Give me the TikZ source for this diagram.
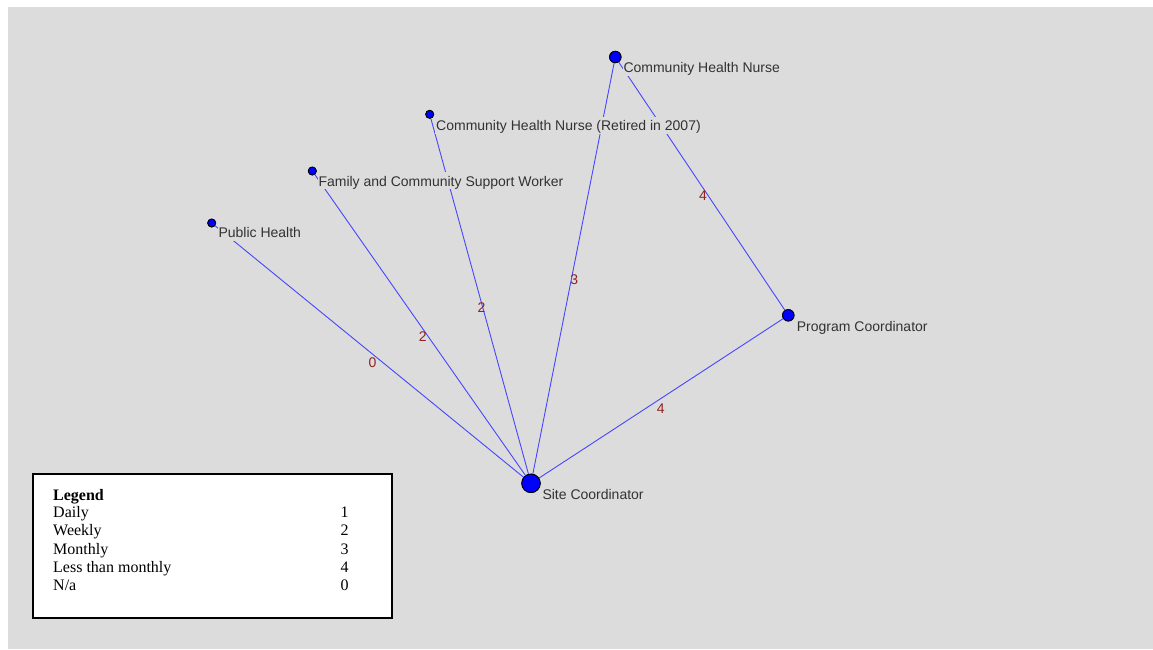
\documentclass[tikz,border=0pt]{standalone}
\usepackage{fontspec}
\setmainfont{Liberation Serif}
\newfontfamily\labfont{Liberation Sans}
\definecolor{bgc}{RGB}{220,220,220}
\definecolor{edgec}{RGB}{70,70,255}
\definecolor{labc}{RGB}{50,50,50}
\definecolor{elabc}{RGB}{145,35,35}
\begin{document}
\begin{tikzpicture}[x=1pt,y=-1pt,
  vtx/.style={circle, draw=black, line width=0.8pt, fill=blue, inner sep=0pt},
  edge/.style={draw=edgec, line width=0.9pt},
  nlabel/.style={anchor=base west, fill=bgc, inner xsep=1pt, inner ysep=1pt,
    text height=13pt, text depth=2pt, text=labc, font=\labfont\fontsize{14}{16}\selectfont},
  elabel/.style={inner sep=0pt, text=elabc, font=\labfont\fontsize{14}{16}\selectfont,
    xshift=1.1pt, yshift=-9.3pt},
  legtxt/.style={anchor=base west, inner sep=0pt, font=\fontsize{16}{18}\selectfont},
  legnum/.style={anchor=base, inner sep=0pt, font=\fontsize{16}{18}\selectfont}
]
\useasboundingbox (0,0) rectangle (1153,649);
\fill[bgc] (8,7) rectangle (1153,649);

% vertices
\node[vtx, minimum size=18.5pt] (sc)   at (531,483.3) {};
\node[vtx, minimum size=11.5pt] (pc)   at (788.3,315.3) {};
\node[vtx, minimum size=11.5pt] (chn)  at (615.3,57) {};
\node[vtx, minimum size=8pt]    (chnr) at (429.7,114.3) {};
\node[vtx, minimum size=8pt]    (fcsw) at (312.3,171) {};
\node[vtx, minimum size=8pt]    (ph)   at (211.7,223) {};

% edges
\draw[edge] (ph) -- (sc);
\draw[edge] (fcsw) -- (sc);
\draw[edge] (chnr) -- (sc);
\draw[edge] (chn) -- (sc);
\draw[edge] (chn) -- (pc);
\draw[edge] (pc) -- (sc);

% edge labels
\path (ph.center) -- (sc.center) node[elabel, midway] (e1) {0};
\path (fcsw.center) -- (sc.center) node[elabel, midway] (e2) {2};
\path (chnr.center) -- (sc.center) node[elabel, midway] (e3) {2};
\path (chn.center) -- (sc.center) node[elabel, midway] (e4) {3};
\path (chn.center) -- (pc.center) node[elabel, midway] (e5) {4};
\path (pc.center) -- (sc.center) node[elabel, midway] (e6) {4};

% vertex labels
\node[nlabel] (sclab)   at (541.3,499.3) {Site Coordinator};
\node[nlabel] (pclab)   at (795.7,331) {Program Coordinator};
\node[nlabel] (chnlab)  at (622.3,72.5) {Community Health Nurse};
\node[nlabel] (chnrlab) at (435,130.5) {Community Health Nurse (Retired in 2007)};
\node[nlabel] (fcswlab) at (317.3,186) {Family and Community Support Worker};
\node[nlabel] (phlab)   at (217.3,237.7) {Public Health};

% redraw vertices on top
\node[vtx, minimum size=18.5pt] at (sc) {};
\node[vtx, minimum size=11.5pt] at (pc) {};
\node[vtx, minimum size=11.5pt] at (chn) {};
\node[vtx, minimum size=8pt]    at (chnr) {};
\node[vtx, minimum size=8pt]    at (fcsw) {};
\node[vtx, minimum size=8pt]    at (ph) {};

% legend
\node[draw=black, line width=2pt, fill=white, anchor=north west, inner sep=0pt, outer sep=0pt,
  minimum width=359pt, minimum height=144pt] (legbox) at (33,474) {};
\node[legtxt] (lg0) at (53,500) {\textbf{Legend}};
\node[legtxt] (lg1) at (53,517.3) {Daily};
\node[legtxt] (lg2) at (53,535.7) {Weekly};
\node[legtxt] (lg3) at (53,554) {Monthly};
\node[legtxt] (lg4) at (53,572.7) {Less than monthly};
\node[legtxt] (lg5) at (53,590.7) {N/a};
\node[legnum] (ln1) at (344.5,517.3) {1};
\node[legnum] (ln2) at (344.5,535.7) {2};
\node[legnum] (ln3) at (344.5,554) {3};
\node[legnum] (ln4) at (344.5,572.7) {4};
\node[legnum] (ln5) at (344.5,590.7) {0};
\end{tikzpicture}
\end{document}
